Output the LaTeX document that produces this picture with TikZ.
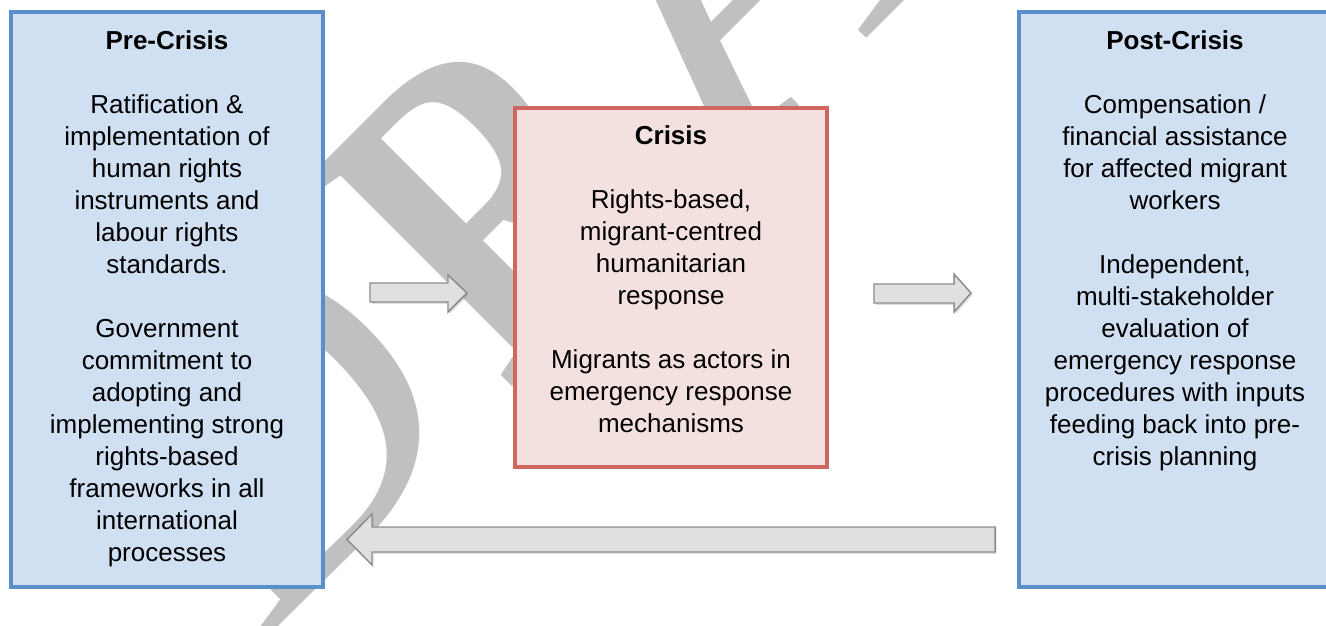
\documentclass[tikz,border=0pt]{standalone}
\usepackage{fontspec}
\setmainfont{Liberation Sans}
\newfontfamily\wmfont{Liberation Serif}
\usetikzlibrary{fit,shadows}
\definecolor{boxblue}{HTML}{5B8FC9}
\definecolor{fillblue}{HTML}{D0E0F2}
\definecolor{boxred}{HTML}{D16661}
\definecolor{fillred}{HTML}{F3E1E0}
\definecolor{wmgray}{HTML}{C0C0C0}
\definecolor{arrowfill}{HTML}{E0E0E0}
\definecolor{arrowline}{HTML}{8C8C8C}
\begin{document}
\begin{tikzpicture}[x=0.75pt,y=-0.75pt,
  bluebox/.style={draw=boxblue,fill=fillblue,line width=3pt,inner sep=0pt},
  redbox/.style={draw=boxred,fill=fillred,line width=3pt,inner sep=0pt},
  txt/.style={align=center,inner sep=0pt,font=\fontsize{19.5}{24}\selectfont},
  wm/.style={rotate=45,text=wmgray,inner sep=0pt,font=\wmfont\fontsize{334}{340}\selectfont},
  blockarrow/.style={draw=arrowline,fill=arrowfill,line width=1.1pt,line join=miter,
    drop shadow={opacity=0.25,shadow xshift=1.2pt,shadow yshift=-1.5pt}}]
\useasboundingbox (0,0) rectangle (1326,625);
\clip (0,0) rectangle (1326,625);
% watermark letters
\node[wm,anchor=base west] (wmD) at (257.4,647.6) {D};
\node[wm,xscale=0.8,anchor=base west] (wmR) at (506,393) {\bfseries R};
\node[wm,xscale=-1,anchor=base] (wmA) at (823.7,81.3) {A};
% boxes
\node[bluebox,fit={(11,12)(323,587)}] (pre) {};
\node[redbox,fit={(515,108)(827,467)}] (crisis) {};
\node[bluebox,fit={(1019,12)(1345,587)}] (post) {};
\node[txt,anchor=north] (pretext) at (167,30) {\textbf{Pre-Crisis}\\[24pt]
Ratification \&\\implementation of\\human rights\\instruments and\\labour rights\\standards.\\[24pt]
Government\\commitment to\\adopting and\\implementing strong\\rights-based\\frameworks in all\\international\\processes};
\node[txt,anchor=north] (crisistext) at (671,125.5) {\textbf{Crisis}\\[24pt]
Rights-based,\\migrant-centred\\humanitarian\\response\\[24pt]
Migrants as actors in\\emergency response\\mechanisms};
\node[txt,anchor=north] (posttext) at (1175,30) {\textbf{Post-Crisis}\\[24pt]
Compensation /\\financial assistance\\for affected migrant\\workers\\[24pt]
Independent,\\multi-stakeholder\\evaluation of\\emergency response\\procedures with inputs\\feeding back into pre-\\crisis planning};
% block arrows
\draw[blockarrow] (370,283) -- (448,283) -- (448,275) -- (467,293) -- (448,312) -- (448,302) -- (370,302) -- cycle;
\draw[blockarrow] (874,284) -- (954,284) -- (954,274) -- (971,293) -- (954,312) -- (954,303) -- (874,303) -- cycle;
\draw[blockarrow] (995,527) -- (372,527) -- (372,514) -- (347,539.5) -- (372,565) -- (372,552) -- (995,552) -- cycle;
\end{tikzpicture}
\end{document}
